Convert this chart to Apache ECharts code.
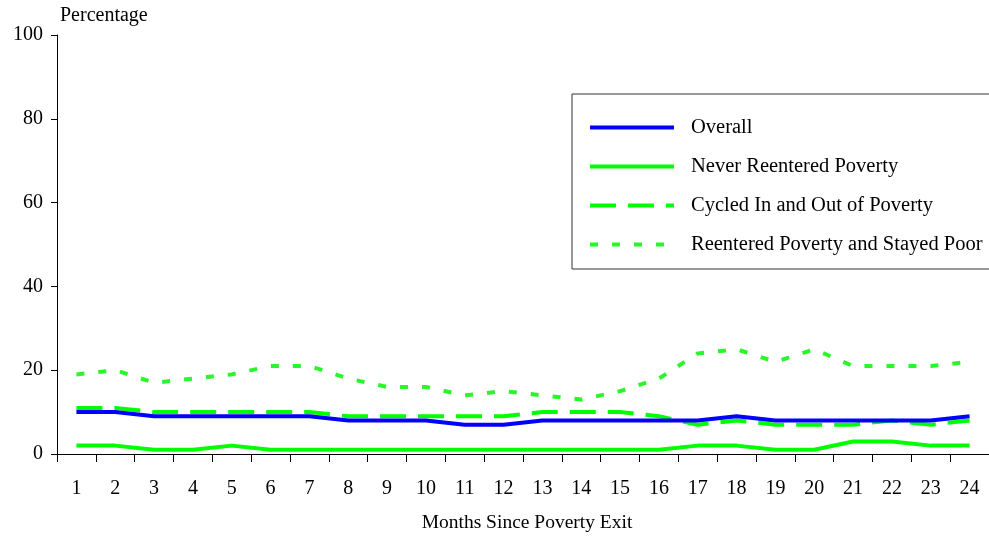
<!DOCTYPE html>
<html><head><meta charset="utf-8">
<script src="https://cdn.jsdelivr.net/npm/echarts@6/dist/echarts.min.js"></script>
<style>html,body{margin:0;padding:0;background:#fff}#c{width:989px;height:538px}</style>
</head><body><div id="c"></div>
<script>
var months = ['1','2','3','4','5','6','7','8','9','10','11','12','13','14','15','16','17','18','19','20','21','22','23','24'];
var overall = [10,10,9,9,9,9,9,8,8,8,7,7,8,8,8,8,8,9,8,8,8,8,8,9];
var neverReentered = [2,2,1,1,2,1,1,1,1,1,1,1,1,1,1,1,2,2,1,1,3,3,2,2];
var cycled = [11,11,10,10,10,10,10,9,9,9,9,9,10,10,10,9,7,8,7,7,7,8,7,8];
var stayedPoor = [19,20,17,18,19,21,21,18,16,16,14,15,14,13,15,18,24,25,22,25,21,21,21,22];

var font = 'Liberation Serif, Times New Roman, serif';
var chart = echarts.init(document.getElementById('c'));
function ser(name, data, color, dash, z){
  return {name:name, type:'line', data:data, symbol:'none', showSymbol:false,
    lineStyle:{color:color, width:4, type: dash || 'solid'},
    itemStyle:{color:color}, emphasis:{disabled:true}, z:z};
}
chart.setOption({
  animation:false,
  textStyle:{fontFamily:font},
  grid:{left:57, top:35, right:0, bottom:84, containLabel:false},
  legend:{
    orient:'vertical', left:572, top:94,
    padding:[23,40,14,16], itemWidth:84, itemHeight:14, itemGap:18,
    borderColor:'#333', borderWidth:1, backgroundColor:'#fff',
    itemStyle:{opacity:0},
    lineStyle:{width:4},
    textStyle:{fontFamily:font, fontSize:20.5, lineHeight:20, color:'#000', padding:[0,0,0,12]},
    data:['Overall','Never Reentered Poverty','Cycled In and Out of Poverty','Reentered Poverty and Stayed Poor']
  },
  xAxis:{
    type:'category', data:months, boundaryGap:true,
    name:'Months Since Poverty Exit', nameLocation:'middle', nameGap:59,
    nameTextStyle:{fontFamily:font, fontSize:19.5, color:'#000', padding:[0,0,0,8]},
    axisLine:{lineStyle:{color:'#000', width:1}},
    axisTick:{show:true, length:8, alignWithLabel:false, lineStyle:{color:'#000'}},
    axisLabel:{fontFamily:font, fontSize:20, color:'#000', margin:25, interval:0},
    splitLine:{show:false}
  },
  yAxis:{
    type:'value', min:0, max:100, interval:20,
    name:'Percentage', nameLocation:'end', nameGap:9,
    nameTextStyle:{fontFamily:font, fontSize:20, color:'#000', align:'left', padding:[0,0,0,3]},
    axisLine:{show:true, lineStyle:{color:'#000', width:1}},
    axisTick:{show:true, length:6, lineStyle:{color:'#000'}},
    axisLabel:{fontFamily:font, fontSize:20, color:'#000', margin:14},
    splitLine:{show:false}
  },
  series:[
    ser('Overall', overall, '#0000ff', null, 4),
    ser('Never Reentered Poverty', neverReentered, '#00ff00', null, 3),
    ser('Cycled In and Out of Poverty', cycled, '#00ff00', [26,12], 2),
    ser('Reentered Poverty and Stayed Poor', stayedPoor, '#2bf52b', [8,14], 2)
  ]
});
</script></body></html>
